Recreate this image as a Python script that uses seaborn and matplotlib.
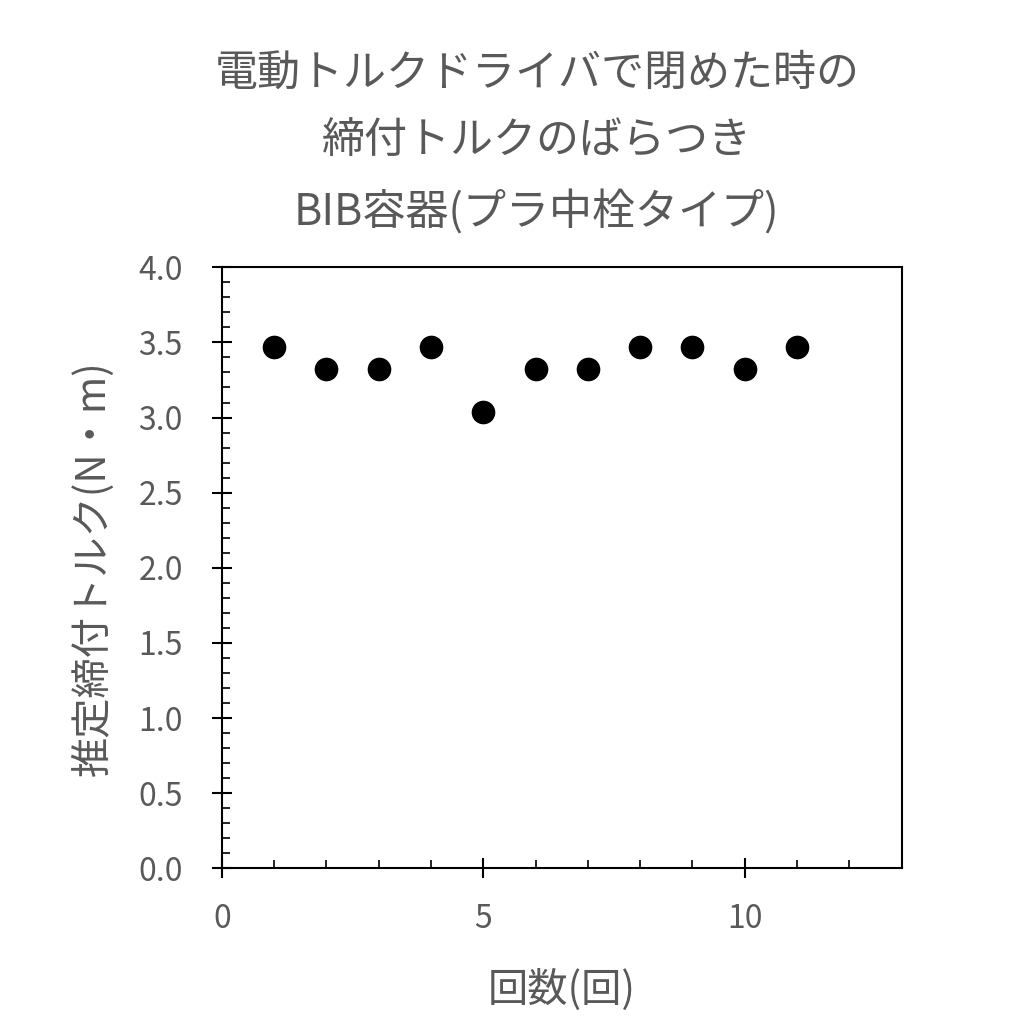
import matplotlib
matplotlib.use("Agg")
import matplotlib.pyplot as plt
import seaborn as sns
import pandas as pd
from matplotlib.ticker import MultipleLocator

trial = [1, 2, 3, 4, 5, 6, 7, 8, 9, 10, 11]
torque = [3.47, 3.32, 3.32, 3.47, 3.04, 3.32, 3.32, 3.47, 3.47, 3.32, 3.47]
title = "電動トルクドライバで閉めた時の\n締付トルクのばらつき\nBIB容器(プラ中栓タイプ)"
xlabel = "回数(回)"
ylabel = "推定締付トルク(N・m)"

sns.set_theme(style="ticks")
plt.rcParams['font.family'] = ['Noto Sans CJK JP', 'DejaVu Sans']

gray = "#595959"
fig = plt.figure(figsize=(10.13, 10.24), dpi=100)
ax = fig.add_axes([0.219, 0.152, 0.671, 0.587])

df = pd.DataFrame({"x": trial, "y": torque})
sns.scatterplot(data=df, x="x", y="y", ax=ax, color="black", s=290, edgecolor="black", linewidth=0)

ax.set_xlim(0, 13)
ax.set_ylim(0, 4.0)
ax.xaxis.set_major_locator(MultipleLocator(5))
ax.xaxis.set_minor_locator(MultipleLocator(1))
ax.yaxis.set_major_locator(MultipleLocator(0.5))
ax.yaxis.set_minor_locator(MultipleLocator(0.1))
ax.yaxis.set_major_formatter(matplotlib.ticker.FormatStrFormatter("%.1f"))

for s in ax.spines.values():
    s.set_visible(True)
    s.set_color("black")
    s.set_linewidth(1.5)

ax.tick_params(which="major", direction="inout", length=14, width=1.5, color="black",
               labelsize=23, labelcolor=gray, pad=21)
ax.tick_params(which="minor", direction="in", length=6, width=1.2, color="black")
ax.tick_params(axis="x", which="major", pad=18)

ax.set_xlabel(xlabel, fontsize=29, color=gray, labelpad=24)
ax.set_ylabel(ylabel, fontsize=29, color=gray, labelpad=18)
fig.text(0.53, 0.950, title, ha="center", va="top", fontsize=31, color=gray, linespacing=1.74)

fig.savefig("out.png", dpi=100, facecolor="white")
